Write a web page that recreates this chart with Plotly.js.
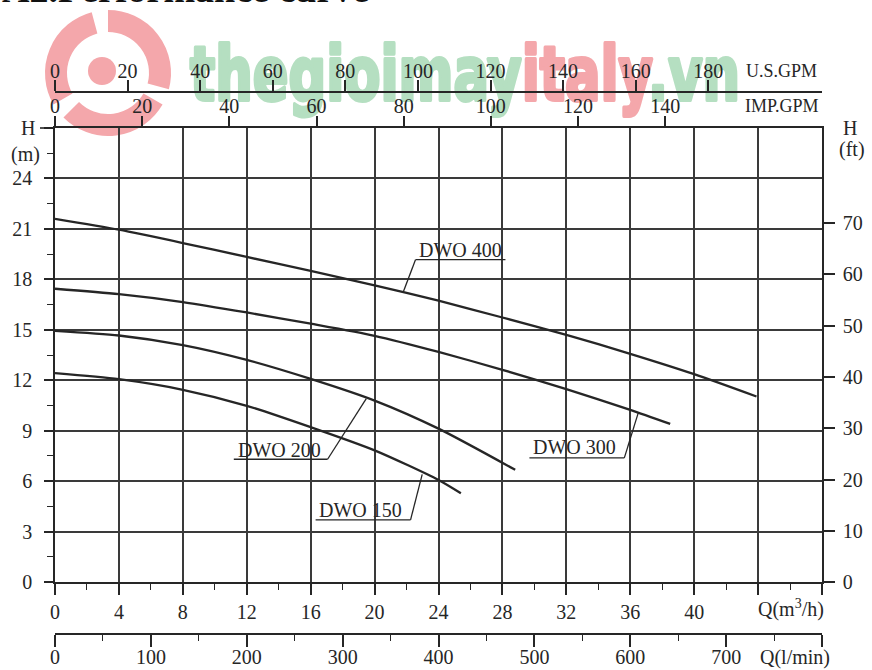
<!DOCTYPE html>
<html>
<head>
<meta charset="utf-8">
<script src="https://cdn.plot.ly/plotly-3.0.1.min.js"></script>
<style>
html,body{margin:0;padding:0;background:#fff;}
#wrap{position:relative;width:872px;height:670px;overflow:hidden;}
#under{position:absolute;left:0;top:0;z-index:0;}
#chart{position:absolute;left:0;top:0;width:872px;height:670px;z-index:1;}
</style>
</head>
<body>
<div id="wrap">
<svg id="under" width="872" height="670" xmlns="http://www.w3.org/2000/svg"></svg>
<div id="chart"></div>
</div>
<script>
// ---------- data ----------
const QM3H_TICKS = [0,4,8,12,16,20,24,28,32,36,40,44,48];
const QM3H_LABELS = ["0","4","8","12","16","20","24","28","32","36","40","",""];
const QLMIN_TICKS = [0,100,200,300,400,500,600,700,800];
const QLMIN_LABELS = ["0","100","200","300","400","500","600","700",""];
const USGPM_TICKS = [0,20,40,60,80,100,120,140,160,180];
const IMPGPM_TICKS = [0,20,40,60,80,100,120,140];
const HM_TICKS = [0,3,6,9,12,15,18,21,24,27];
const HM_LABELS = ["0","3","6","9","12","15","18","21","24",""];
const HFT_TICKS = [0,10,20,30,40,50,60,70];

const DWO400_Q = [0,4,8,12,16,20,24,28,32,36,40,43.9];
const DWO400_H = [21.6,20.95,20.16,19.33,18.51,17.64,16.73,15.73,14.70,13.57,12.36,11.03];
const DWO300_Q = [0,4,8,12,16,20,24,28,32,36,38.5];
const DWO300_H = [17.44,17.12,16.65,16.03,15.36,14.64,13.68,12.62,11.47,10.24,9.40];
const DWO200_Q = [0,4,8,12,16,20,24,28.8];
const DWO200_H = [14.94,14.66,14.09,13.21,12.08,10.79,9.12,6.67];
const DWO150_Q = [0,4,8,12,16,20,24,25.4];
const DWO150_H = [12.42,12.06,11.43,10.48,9.21,7.83,6.07,5.28];

const SERIES_NAMES = ["DWO 400","DWO 300","DWO 200","DWO 150"];
// label text centre, underline ends, leader end (x in m3/h, y in m)
const LABEL_X = [25.4, 32.5, 14.06, 19.1];
const LABEL_Y = [19.76, 8.04, 7.86, 4.29];
const UNDER_X0 = [22.56, 29.69, 11.19, 16.31];
const UNDER_X1 = [28.19, 35.63, 17.06, 22.25];
const UNDER_Y = [19.17, 7.38, 7.30, 3.69];
const LEADER_FROM_RIGHT = [false, true, true, true];
const LEADER_X = [21.8, 36.5, 19.48, 22.98];
const LEADER_Y = [17.26, 10.06, 10.9, 6.4];

const Q_MAX = 48;           // m3/h
const H_MAX = 27;           // m
const M_PER_FT = 0.3048;
const LMIN_PER_M3H = 1000/60;
const USGPM_PER_M3H = 4.40287;
const IMPGPM_PER_M3H = 3.66615;

// ---------- style ----------
const INK = '#262626';
const GRID = '#3a3a3a';
const SERIF = 'Liberation Serif, Times New Roman, serif';
const TF = {family: SERIF, size: 20, color: INK};

const curveStyle = {color: INK, width: 2.3, shape: 'spline', smoothing: 0.7};
const seriesQ = [DWO400_Q, DWO300_Q, DWO200_Q, DWO150_Q];
const seriesH = [DWO400_H, DWO300_H, DWO200_H, DWO150_H];

const traces = seriesQ.map((q, i) => ({
  type: 'scatter', mode: 'lines', x: q, y: seriesH[i], name: SERIES_NAMES[i],
  xaxis: 'x', yaxis: 'y', line: curveStyle, hoverinfo: 'skip', showlegend: false
}));
// invisible helpers so the secondary axes are built
const helperAxes = [['x2','y'],['x3','y'],['x4','y'],['x','y2']];
helperAxes.forEach(([xa, ya]) => {
  traces.push({type:'scatter', mode:'markers', x:[0], y:[0], xaxis:xa, yaxis:ya,
    marker:{opacity:0, size:1}, hoverinfo:'skip', showlegend:false});
});

// layout geometry: paper covers from US GPM axis (top) to l/min axis (bottom)
const PAPER_TOP = 92, PAPER_BOTTOM = 634, PLOT_TOP = 128, PLOT_BOTTOM = 582;
const PH = PAPER_BOTTOM - PAPER_TOP;
const yDomain = [(PAPER_BOTTOM - PLOT_BOTTOM)/PH, (PAPER_BOTTOM - PLOT_TOP)/PH];
const L = 55, R = 822, PW = R - L;
const px = x => (x - L)/PW;
const py = y => (PAPER_BOTTOM - y)/PH;

const axBase = {
  showline: true, linecolor: INK, linewidth: 1.6, ticks: 'outside', tickcolor: INK,
  tickwidth: 1.5, zeroline: false, fixedrange: true, tickfont: TF, showgrid: false
};

const annotations = [];
const shapes = [];
SERIES_NAMES.forEach((name, i) => {
  annotations.push({xref:'x', yref:'y', x: LABEL_X[i], y: LABEL_Y[i], text: name,
    showarrow:false, font:{family: SERIF, size: 20, color: INK}, xanchor:'center', yanchor:'middle'});
  shapes.push({type:'line', xref:'x', yref:'y', x0: UNDER_X0[i], x1: UNDER_X1[i], y0: UNDER_Y[i], y1: UNDER_Y[i],
    line:{color: INK, width: 1.3}});
  const sx = LEADER_FROM_RIGHT[i] ? UNDER_X1[i] : UNDER_X0[i];
  shapes.push({type:'line', xref:'x', yref:'y', x0: sx, y0: UNDER_Y[i], x1: LEADER_X[i], y1: LEADER_Y[i],
    line:{color: INK, width: 1.3}});
});

const txt = (x, y, text, size, anchor) => ({xref:'paper', yref:'paper', x: px(x), y: py(y), text,
  showarrow:false, font:{family: SERIF, size: size, color: INK}, xanchor: anchor || 'center', yanchor:'middle'});
annotations.push(txt(28, 128, 'H', 20));
annotations.push(txt(25, 154, '(m)', 20));
annotations.push(txt(850, 128, 'H', 20));
annotations.push(txt(852, 149, '(ft)', 20));
annotations.push(txt(781, 71, 'U.S.GPM', 18));
annotations.push(txt(782, 106, 'IMP.GPM', 18));
annotations.push(txt(791, 608, 'Q(m<sup>3</sup>/h)', 20));
annotations.push(txt(795, 657, 'Q(l/min)', 20));
// cut-off heading
annotations.push({xref:'paper', yref:'paper', x: px(0), y: py(-11), xanchor:'left', yanchor:'middle',
  text:'<b>A2.Performance curve</b>', showarrow:false, font:{family: SERIF, size: 38, color: '#111'}});
// top border extension at left
shapes.push({type:'line', xref:'paper', yref:'paper', x0: px(40), x1: px(55), y0: py(128), y1: py(128),
  line:{color: INK, width: 1.6}});

const layout = {
  width: 872, height: 670,
  margin: {l: L, r: 872 - R, t: PAPER_TOP, b: 670 - PAPER_BOTTOM, pad: 0},
  paper_bgcolor: 'rgba(0,0,0,0)', plot_bgcolor: 'rgba(0,0,0,0)', showlegend: false, dragmode: false,
  xaxis: Object.assign({}, axBase, {
    range: [0, Q_MAX], domain: [0,1], anchor: 'y', tickmode: 'array', tickvals: QM3H_TICKS, ticktext: QM3H_LABELS,
    showgrid: true, gridcolor: GRID, gridwidth: 1.6, ticklen: 11, ticklabelstandoff: 0,
    minor: {tickmode: 'linear', tick0: 0, dtick: 2, ticks: 'outside', ticklen: 6, tickcolor: INK, tickwidth: 1.3, showgrid: false}
  }),
  xaxis2: Object.assign({}, axBase, {
    range: [0, Q_MAX*LMIN_PER_M3H], overlaying: 'x', anchor: 'free', position: 0, side: 'bottom',
    tickmode: 'array', tickvals: QLMIN_TICKS, ticktext: QLMIN_LABELS, ticklen: 12, ticklabelstandoff: -7,
    minor: {tickmode: 'linear', tick0: 0, dtick: 50, ticks: 'outside', ticklen: 6, tickcolor: INK, tickwidth: 1.3, showgrid: false}
  }),
  xaxis3: Object.assign({}, axBase, {
    range: [0, Q_MAX*IMPGPM_PER_M3H], overlaying: 'x', anchor: 'y', side: 'top',
    tickmode: 'array', tickvals: IMPGPM_TICKS, ticklen: 10, ticklabelstandoff: -5
  }),
  xaxis4: Object.assign({}, axBase, {
    range: [0, Q_MAX*USGPM_PER_M3H], overlaying: 'x', anchor: 'free', position: 1, side: 'top',
    tickmode: 'array', tickvals: USGPM_TICKS, ticklen: 11, ticklabelstandoff: -6
  }),
  yaxis: Object.assign({}, axBase, {
    range: [0, H_MAX], domain: yDomain, anchor: 'x', tickmode: 'array', tickvals: HM_TICKS, ticktext: HM_LABELS,
    showgrid: true, gridcolor: GRID, gridwidth: 1.6, ticklen: 9, ticklabelstandoff: 8,
    minor: {tickmode: 'linear', tick0: 0, dtick: 1.5, ticks: 'outside', ticklen: 6, tickcolor: INK, tickwidth: 1.3, showgrid: false}
  }),
  yaxis2: Object.assign({}, axBase, {
    range: [0, H_MAX/M_PER_FT], overlaying: 'y', anchor: 'x', side: 'right',
    tickmode: 'array', tickvals: HFT_TICKS, ticklen: 11, ticklabelstandoff: 4
  }),
  annotations: annotations,
  shapes: shapes
};

// ---------- decorative watermark underlay (real SVG text, drawn beneath the chart) ----------
(function(){
  const NS = 'http://www.w3.org/2000/svg';
  const svg = document.getElementById('under');
  const PINK = '#f4a7ab', GREEN = '#b5dfc1';
  const cx = 108, cy = 73, r = 52;
  const pt = (a, rr) => [cx + rr*Math.cos(a*Math.PI/180), cy + rr*Math.sin(a*Math.PI/180)];
  const blades = [[150, 255], [270, 15], [30, 135]];
  blades.forEach(([a1, a2]) => {
    const p1 = pt(a1, r), p2 = pt(a2, r);
    const path = document.createElementNS(NS, 'path');
    path.setAttribute('d', `M${p1[0]},${p1[1]} A${r},${r} 0 0 1 ${p2[0]},${p2[1]}`);
    path.setAttribute('stroke', PINK); path.setAttribute('stroke-width', '22');
    path.setAttribute('fill', 'none');
    svg.appendChild(path);
  });
  const dot = document.createElementNS(NS, 'circle');
  dot.setAttribute('cx', 102); dot.setAttribute('cy', 71); dot.setAttribute('r', 14);
  dot.setAttribute('fill', PINK); svg.appendChild(dot);

  const t = document.createElementNS(NS, 'text');
  t.setAttribute('x', 190); t.setAttribute('y', 100);
  t.setAttribute('font-family', 'DejaVu Sans, sans-serif');
  t.setAttribute('font-weight', 'bold');
  t.setAttribute('font-size', '74');
  t.setAttribute('textLength', '550');
  t.setAttribute('lengthAdjust', 'spacingAndGlyphs');
  t.setAttribute('stroke-width', '4');
  t.setAttribute('stroke-linejoin', 'round');
  [['thegioimay', GREEN], ['italy', PINK], ['.vn', GREEN]].forEach(([s, c]) => {
    const sp = document.createElementNS(NS, 'tspan');
    sp.setAttribute('fill', c); sp.setAttribute('stroke', c); sp.textContent = s; t.appendChild(sp);
  });
  svg.appendChild(t);
})();

Plotly.newPlot('chart', traces, layout, {displayModeBar: false, staticPlot: false});
</script>
</body>
</html>
